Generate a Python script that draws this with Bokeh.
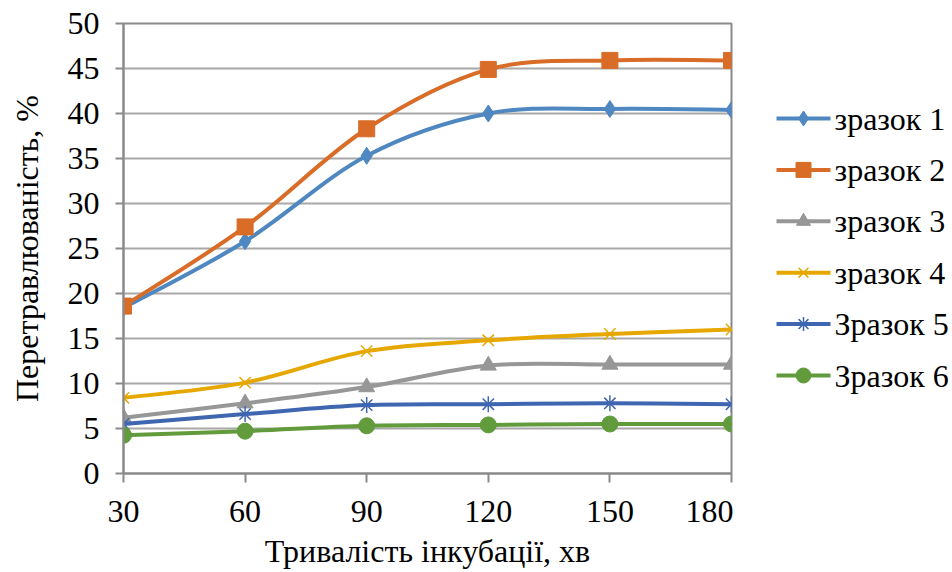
from bokeh.plotting import figure
from bokeh.layouts import row
from bokeh.models import ColumnDataSource, FixedTicker, Range1d
from bokeh.core.properties import value
from bokeh.embed import file_html
from bokeh.resources import INLINE

# Incubation time, minutes
minutes = [30, 60, 90, 120, 150, 180]

# Digestibility, % for each sample
sample1 = [18.4, 25.8, 35.3, 40.0, 40.5, 40.4]
sample2 = [18.6, 27.4, 38.3, 44.9, 45.9, 45.9]
sample3 = [6.2, 7.8, 9.6, 12.0, 12.1, 12.1]
sample4 = [8.4, 10.1, 13.6, 14.8, 15.5, 16.0]
sample5 = [5.5, 6.6, 7.6, 7.7, 7.8, 7.7]
sample6 = [4.25, 4.7, 5.3, 5.4, 5.5, 5.5]

names = ["зразок 1", "зразок 2", "зразок 3", "зразок 4", "Зразок 5", "Зразок 6"]
series = [sample1, sample2, sample3, sample4, sample5, sample6]
colors = ["#4f88c1", "#d96c27", "#979797", "#e6a800", "#3f66b0", "#619b3c"]
markers = ["diamond", "square", "triangle", "x", "asterisk", "circle"]
marker_sizes = [17, 16, 16, 16, 16, 16]
legend_marker_sizes = [15, 15, 14, 14, 14, 15]

FONT = "'Liberation Serif', 'Times New Roman', serif"
FONT_SIZE = "32px"
AXIS_GRAY = "#8a8a8a"
GRID_GRAY = "#a8a8a8"
HEIGHT = 572
MAIN_W = 733
TOP, BOTTOM = 23, 99


def smooth_segments(xs, ys):
    """Cubic Bezier control points for a smoothed line through the points."""
    n = len(xs)
    seg = dict(x0=[], y0=[], x1=[], y1=[], cx0=[], cy0=[], cx1=[], cy1=[])
    for i in range(n - 1):
        ip = max(i - 1, 0)
        inn = min(i + 2, n - 1)
        seg["x0"].append(xs[i])
        seg["y0"].append(ys[i])
        seg["x1"].append(xs[i + 1])
        seg["y1"].append(ys[i + 1])
        seg["cx0"].append(xs[i] + (xs[i + 1] - xs[ip]) / 6.0)
        seg["cy0"].append(ys[i] + (ys[i + 1] - ys[ip]) / 6.0)
        seg["cx1"].append(xs[i + 1] - (xs[inn] - xs[i]) / 6.0)
        seg["cy1"].append(ys[i + 1] - (ys[inn] - ys[i]) / 6.0)
    return seg


# ---- main chart ----
p = figure(width=MAIN_W, height=HEIGHT, output_backend="svg", toolbar_location=None,
           x_range=Range1d(30, 180), y_range=Range1d(0, 50),
           min_border_left=123, min_border_right=2,
           min_border_top=TOP, min_border_bottom=BOTTOM)

p.background_fill_color = "white"
p.border_fill_color = "white"
p.outline_line_color = AXIS_GRAY
p.outline_line_width = 2

p.xgrid.visible = False
p.ygrid.grid_line_color = GRID_GRAY
p.ygrid.grid_line_width = 2
p.ygrid.ticker = FixedTicker(ticks=list(range(0, 51, 5)))

p.xaxis.ticker = FixedTicker(ticks=minutes)
p.yaxis.ticker = FixedTicker(ticks=list(range(0, 51, 5)))

for ax in (p.xaxis[0], p.yaxis[0]):
    ax.axis_line_color = AXIS_GRAY
    ax.axis_line_width = 2
    ax.major_tick_line_color = AXIS_GRAY
    ax.major_tick_line_width = 2
    ax.major_tick_in = 0
    ax.minor_tick_line_color = None
    ax.major_label_text_font = FONT
    ax.major_label_text_font_size = FONT_SIZE
    ax.major_label_text_color = "black"
    ax.axis_label_text_font = FONT
    ax.axis_label_text_font_size = FONT_SIZE
    ax.axis_label_text_font_style = "normal"
    ax.axis_label_text_color = "black"

p.xaxis.major_tick_out = 9
p.yaxis.major_tick_out = 8
p.xaxis.major_label_standoff = 18
p.yaxis.major_label_standoff = 16
p.xaxis.axis_label = "Тривалість інкубації, хв"
p.yaxis.axis_label = "Перетравлюваність, %"
p.xaxis.axis_label_standoff = 8
p.yaxis.axis_label_standoff = 20

for ys, col, mk, ms in zip(series, colors, markers, marker_sizes):
    seg = ColumnDataSource(smooth_segments(minutes, ys))
    p.bezier(x0="x0", y0="y0", x1="x1", y1="y1", cx0="cx0", cy0="cy0",
             cx1="cx1", cy1="cy1", source=seg, line_color=col, line_width=4,
             line_cap="round")
    thin = mk in ("x", "asterisk")
    p.scatter(x=minutes, y=ys, marker=mk, size=ms,
              fill_color=col, line_color=col,
              line_width=1.5 if thin else 1)

# ---- legend panel: coordinates are page pixels (x from panel left, y from top) ----
lg = figure(width=952 - MAIN_W, height=HEIGHT, output_backend="svg",
            toolbar_location=None, x_range=Range1d(0, 952 - MAIN_W),
            y_range=Range1d(HEIGHT - BOTTOM, TOP),
            min_border_left=0, min_border_right=0,
            min_border_top=TOP, min_border_bottom=BOTTOM)
lg.axis.visible = False
lg.grid.visible = False
lg.outline_line_color = None
lg.background_fill_color = "white"
lg.border_fill_color = "white"

row_y = [118 + 51.4 * i for i in range(len(names))]
sw_x0, sw_x1, txt_x = 43, 97, 101
lg.segment(x0=[sw_x0] * len(names), x1=[sw_x1] * len(names), y0=row_y, y1=row_y,
           line_color=colors, line_width=4)
for yy, col, mk, ms in zip(row_y, colors, markers, legend_marker_sizes):
    thin = mk in ("x", "asterisk")
    lg.scatter(x=[(sw_x0 + sw_x1) / 2], y=[yy], marker=mk, size=ms,
               fill_color=col, line_color=col, line_width=1.5 if thin else 1)
lg.text(x=[txt_x] * len(names), y=row_y, text=names,
        text_font=value(FONT), text_font_size=FONT_SIZE, text_color="black",
        text_align="left", text_baseline="middle")

layout = row(p, lg, spacing=0)
open("out.html", "w").write(file_html(layout, INLINE))
